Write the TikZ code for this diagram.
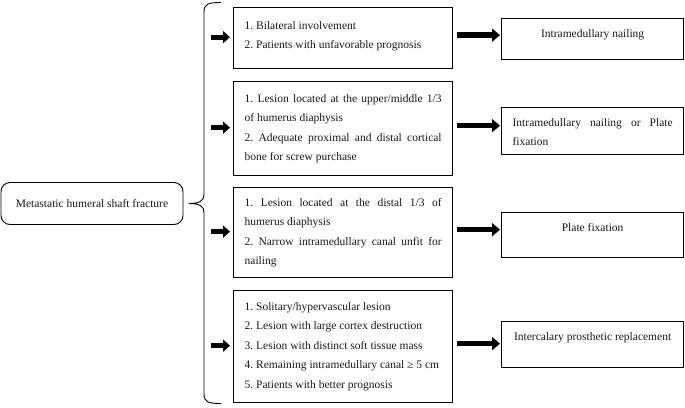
\documentclass[tikz,border=0pt]{standalone}
\usepackage{fontspec}
\setmainfont{Liberation Serif}
\usetikzlibrary{arrows.meta,calc}
\frenchspacing
\begin{document}
\begin{tikzpicture}[x=1pt,y=-1pt,
  every node/.style={font=\fontsize{11.5}{19.5}\selectfont\frenchspacing, text=black!90},
  mainbox/.style={draw, line width=0.9pt, rounded corners=9pt, minimum width=182pt, minimum height=42pt, inner sep=0pt},
  cbox/.style={draw, line width=1.3pt, minimum width=219pt, anchor=north west, inner sep=0pt, text width=197pt, align=flush left},
  rbox/.style={draw, line width=1.3pt, minimum width=182pt, anchor=north west, inner sep=0pt},
  rtext/.style={text width=160pt, align=flush center, inner sep=0pt, anchor=north},
  blks/.style={line width=5pt, -{Triangle[length=7pt,width=12pt]}, shorten >=3pt},
  blkr/.style={line width=5.5pt, -{Triangle[length=8pt,width=13pt]}, shorten <=4pt, shorten >=1pt},
  bracestyle/.style={line width=0.9pt},
]
\useasboundingbox (0,0) rectangle (685,407);

% main box
\node[mainbox] (main) at (92,203.5) {Metastatic humeral shaft fracture};

% brace
\coordinate (tip) at (189,203.5);
\draw[bracestyle] (221,2.5) .. controls (208,2.5) and (204,4) .. (204,12) -- (204,194.5)
  .. controls (204,200.5) and (200,203.5) .. (tip)
  .. controls (200,203.5) and (204,206.5) .. (204,212.5) -- (204,394)
  .. controls (204,402) and (208,403.5) .. (221,403.5);

% condition boxes
\node[cbox, minimum height=61pt] (c1) at (233,7) {1. Bilateral involvement\\2. Patients with unfavorable prognosis\par\vspace{4pt}};
\node[cbox, minimum height=94pt] (c2) at (233,81) {\makebox[197pt][s]{1. Lesion located at the upper/middle 1/3}\\of humerus diaphysis\\\makebox[197pt][s]{2. Adequate proximal and distal cortical}\\bone for screw purchase};
\node[cbox, minimum height=90pt] (c3) at (233,187) {\makebox[197pt][s]{1. Lesion located at the distal 1/3 of}\\humerus diaphysis\\\makebox[197pt][s]{2. Narrow intramedullary canal unfit for}\\nailing};
\node[cbox, minimum height=112pt] (c4) at (233,290) {1. Solitary/hypervascular lesion\\2. Lesion with large cortex destruction\\3. Lesion with distinct soft tissue mass\\4. Remaining intramedullary canal ≥ 5 cm\\5. Patients with better prognosis};

% result boxes
\node[rbox, minimum height=41pt] (r1) at (501,18) {};
\node[rbox, minimum height=47pt] (r2) at (501,107) {};
\node[rbox, minimum height=45pt] (r3) at (501,212) {};
\node[rbox, minimum height=46pt] (r4) at (501,321) {};

\node[rtext] (t1) at ($(r1.north)+(0,11)$) {Intramedullary nailing};
\node[rtext, align=flush left] (t2) at ($(r2.north)+(0,11)$) {\makebox[160pt][s]{Intramedullary nailing or Plate}\\fixation};
\node[rtext] (t3) at ($(r3.north)+(0,11)$) {Plate fixation};
\node[rtext] (t4) at ($(r4.north)+(0,11)$) {Intercalary prosthetic replacement};

% arrows
\foreach \i in {1,2,3,4}{
  \coordinate (a\i) at ($(c\i.west)+(-22,-1)$);
  \draw[blks] (a\i) -- (a\i -| c\i.west);
  \coordinate (b\i) at ($(c\i.east)+(0,-3)$);
  \draw[blkr] (b\i) -- (b\i -| r\i.west);
}
\end{tikzpicture}
\end{document}
